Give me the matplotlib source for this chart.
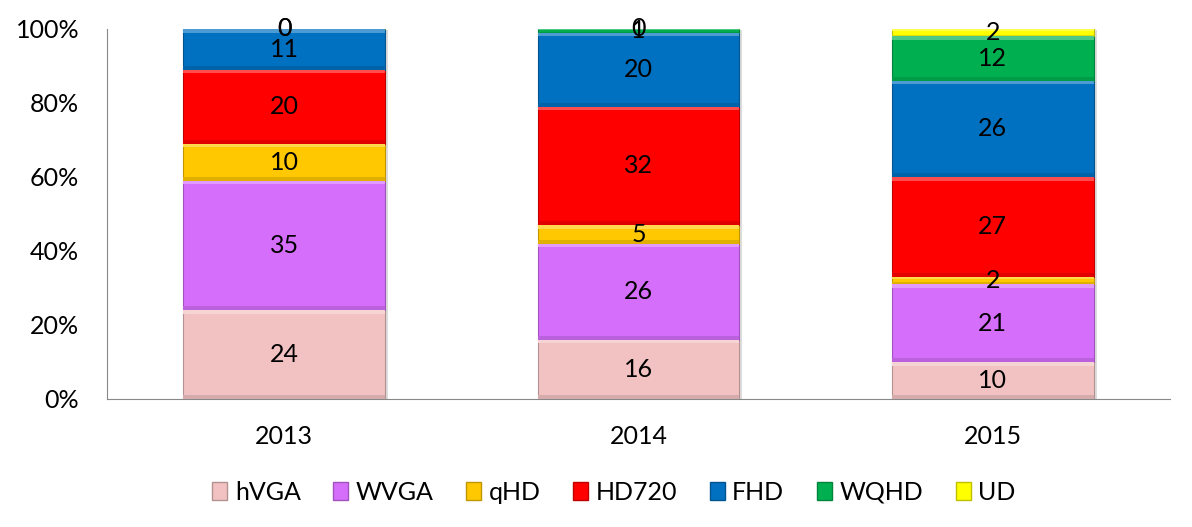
import numpy as np
import matplotlib.pyplot as plt
from matplotlib.patches import Patch
import matplotlib.colors as mcolors

plt.rcParams['font.family'] = ['Lato', 'DejaVu Sans']

years = ['2013', '2014', '2015']
series = ['hVGA', 'WVGA', 'qHD', 'HD720', 'FHD', 'WQHD', 'UD']
hvga = [24, 16, 10]
wvga = [35, 26, 21]
qhd = [10, 5, 2]
hd720 = [20, 32, 27]
fhd = [11, 20, 26]
wqhd = [0, 1, 12]
ud = [0, 0, 2]
colors = ['#F2C2C2', '#D56EFB', '#FFC800', '#FF0000', '#0070C0', '#00B050', '#FFFF00']

vals = np.array([hvga, wvga, qhd, hd720, fhd, wqhd, ud], dtype=float)
pct = vals / vals.sum(axis=0) * 100

fig = plt.figure(figsize=(11.92, 5.27), dpi=100)
ax = fig.add_axes([0.0898, 0.243, 0.8917, 0.702])
x = np.arange(len(years))
w = 0.57

def shade(c, f):
    r, g, b = mcolors.to_rgb(c)
    if f > 1:
        return (r + (1 - r) * (f - 1), g + (1 - g) * (f - 1), b + (1 - b) * (f - 1))
    return (r * f, g * f, b * f)

bottom = np.zeros(len(years))
for i, name in enumerate(series):
    h = pct[i]
    # shadow
    ax.bar(x + 0.008, h, w, bottom=bottom - 0.4, color='#bbbbbb', alpha=0.5, zorder=1)
    ax.bar(x, h, w, bottom=bottom, color=colors[i], edgecolor=shade(colors[i], 0.75),
           linewidth=0.8, zorder=2)
    # bevel highlights
    bh = np.minimum(h * 0.25, 1.0)
    ax.bar(x, bh, w, bottom=bottom + h - bh, color=shade(colors[i], 1.3), linewidth=0, zorder=3)
    ax.bar(x, bh, w, bottom=bottom, color=shade(colors[i], 0.88), linewidth=0, zorder=3)
    for j in range(len(years)):
        ax.text(x[j], bottom[j] + h[j] / 2, '%d' % vals[i, j], ha='center', va='center',
                fontsize=18, color='black', zorder=5)
    bottom += h

ax.set_xlim(-0.5, 2.5)
ax.set_ylim(0, 100)
ax.set_xticks(x)
ax.set_xticklabels(years, fontsize=18)
ax.set_yticks(np.arange(0, 101, 20))
ax.set_yticklabels(['%d%%' % v for v in range(0, 101, 20)], fontsize=18)
ax.tick_params(axis='y', length=0, pad=20)
ax.tick_params(axis='x', length=0, pad=19)
for s in ['top', 'right']:
    ax.spines[s].set_visible(False)
for s in ['left', 'bottom']:
    ax.spines[s].set_color('#888888')

handles = [Patch(facecolor=c, edgecolor=shade(c, 0.75), label=n) for n, c in zip(series, colors)]
fig.legend(handles=handles, loc='center', bbox_to_anchor=(0.515, 0.066), ncol=7,
           frameon=False, fontsize=18, handlelength=0.6, handleheight=0.7,
           handletextpad=0.3, columnspacing=1.3)

fig.savefig('out.png', dpi=100)
